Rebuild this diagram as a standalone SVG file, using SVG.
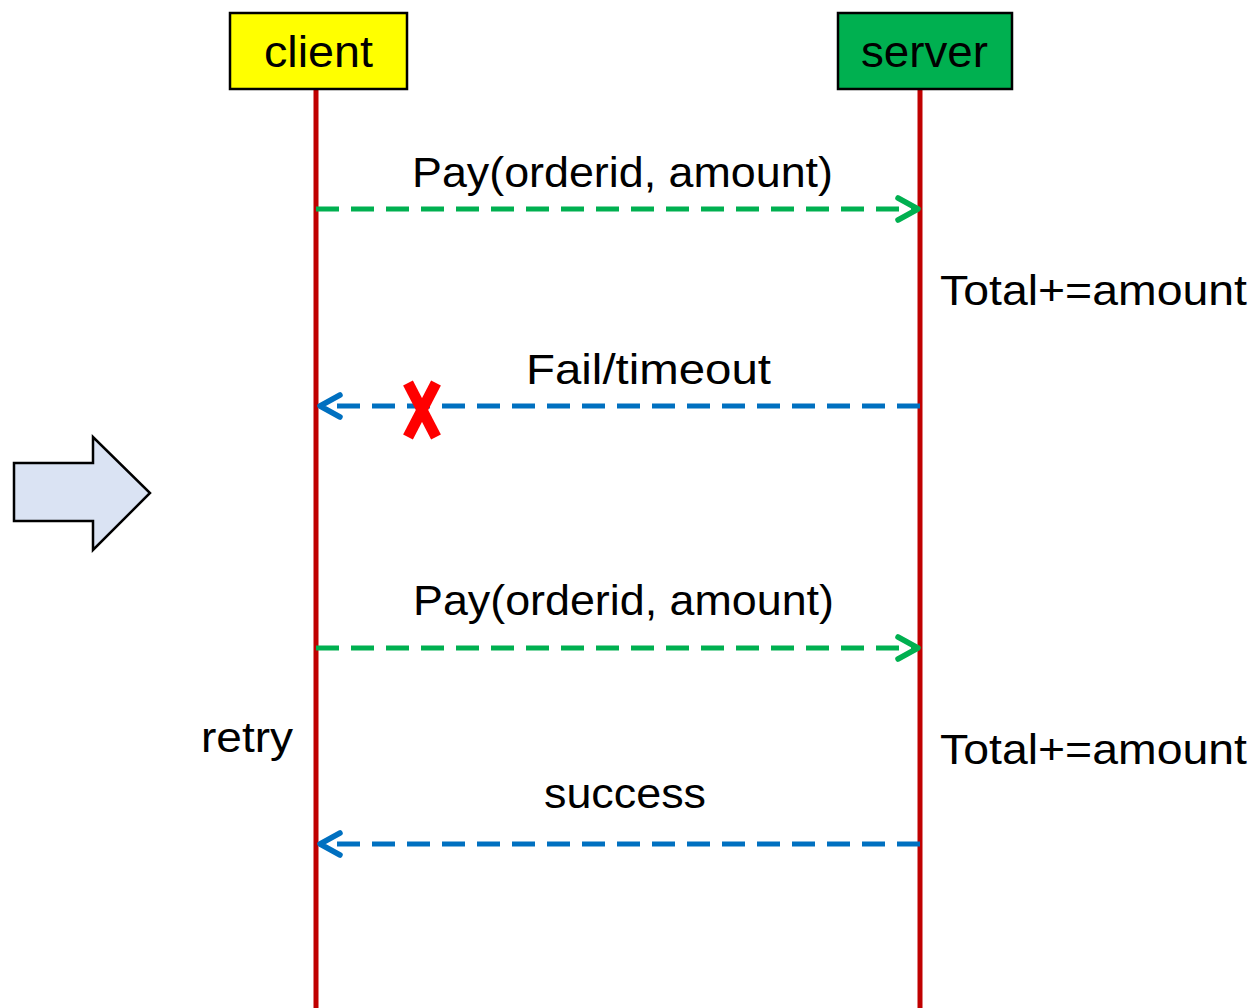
<svg xmlns="http://www.w3.org/2000/svg" width="1255" height="1008" viewBox="0 0 1255 1008">
<style>
text{font-family:"Liberation Sans",Arial,sans-serif;font-size:42px;fill:#000}
.box{stroke:#000;stroke-width:2.5}
.life{stroke:#c00000;stroke-width:5;fill:none}
.req{stroke:#00b050;stroke-width:5;fill:none;stroke-dasharray:23 12}
.resp{stroke:#0070c0;stroke-width:5;fill:none;stroke-dasharray:23 12}
.headg{stroke:#00b050;stroke-width:5.5;fill:none;stroke-linecap:round;stroke-linejoin:round}
.headb{stroke:#0070c0;stroke-width:5.5;fill:none;stroke-linecap:round;stroke-linejoin:round}
</style>
<rect width="1255" height="1008" fill="#fff"/>
<g id="lifelines">
<line class="life" x1="316" y1="89" x2="316" y2="1008"/>
<line class="life" x1="920" y1="89" x2="920" y2="1008"/>
</g>
<g id="client">
<rect class="box" x="230" y="13" width="177" height="76" fill="#ffff00"/>
<text x="264" y="67" style="font-size:44px" textLength="109" lengthAdjust="spacingAndGlyphs">client</text>
</g>
<g id="server">
<rect class="box" x="838" y="13" width="174" height="76" fill="#00b050"/>
<text x="861" y="67" style="font-size:44px" textLength="127" lengthAdjust="spacingAndGlyphs">server</text>
</g>
<g id="connectors">
<line class="req" x1="316" y1="209" x2="914" y2="209"/>
<polyline class="headg" points="898,198 918,209 898,220"/>
<line class="resp" x1="920" y1="406" x2="322" y2="406"/>
<polyline class="headb" points="340,395 320,406 340,417"/>
<line class="req" x1="316" y1="648" x2="914" y2="648"/>
<polyline class="headg" points="898,637 918,648 898,659"/>
<line class="resp" x1="920" y1="844" x2="322" y2="844"/>
<polyline class="headb" points="340,833 320,844 340,855"/>
</g>
<g id="fail-mark">
<line x1="408" y1="383" x2="436" y2="437" stroke="#ff0000" stroke-width="11"/>
<line x1="436" y1="383" x2="408" y2="437" stroke="#ff0000" stroke-width="11"/>
</g>
<g id="block-arrow">
<polygon points="14,463 93,463 93,437 150,493 93,550 93,521 14,521" fill="#dae3f3" stroke="#000" stroke-width="2.5"/>
</g>
<g id="labels">
<text x="412" y="187" textLength="421" lengthAdjust="spacingAndGlyphs">Pay(orderid, amount)</text>
<text x="940" y="305" textLength="307" lengthAdjust="spacingAndGlyphs">Total+=amount</text>
<text x="526" y="384" textLength="245" lengthAdjust="spacingAndGlyphs">Fail/timeout</text>
<text x="413" y="615" textLength="421" lengthAdjust="spacingAndGlyphs">Pay(orderid, amount)</text>
<text x="201" y="752" textLength="92" lengthAdjust="spacingAndGlyphs">retry</text>
<text x="940" y="764" textLength="307" lengthAdjust="spacingAndGlyphs">Total+=amount</text>
<text x="544" y="808" textLength="162" lengthAdjust="spacingAndGlyphs">success</text>
</g>
</svg>
